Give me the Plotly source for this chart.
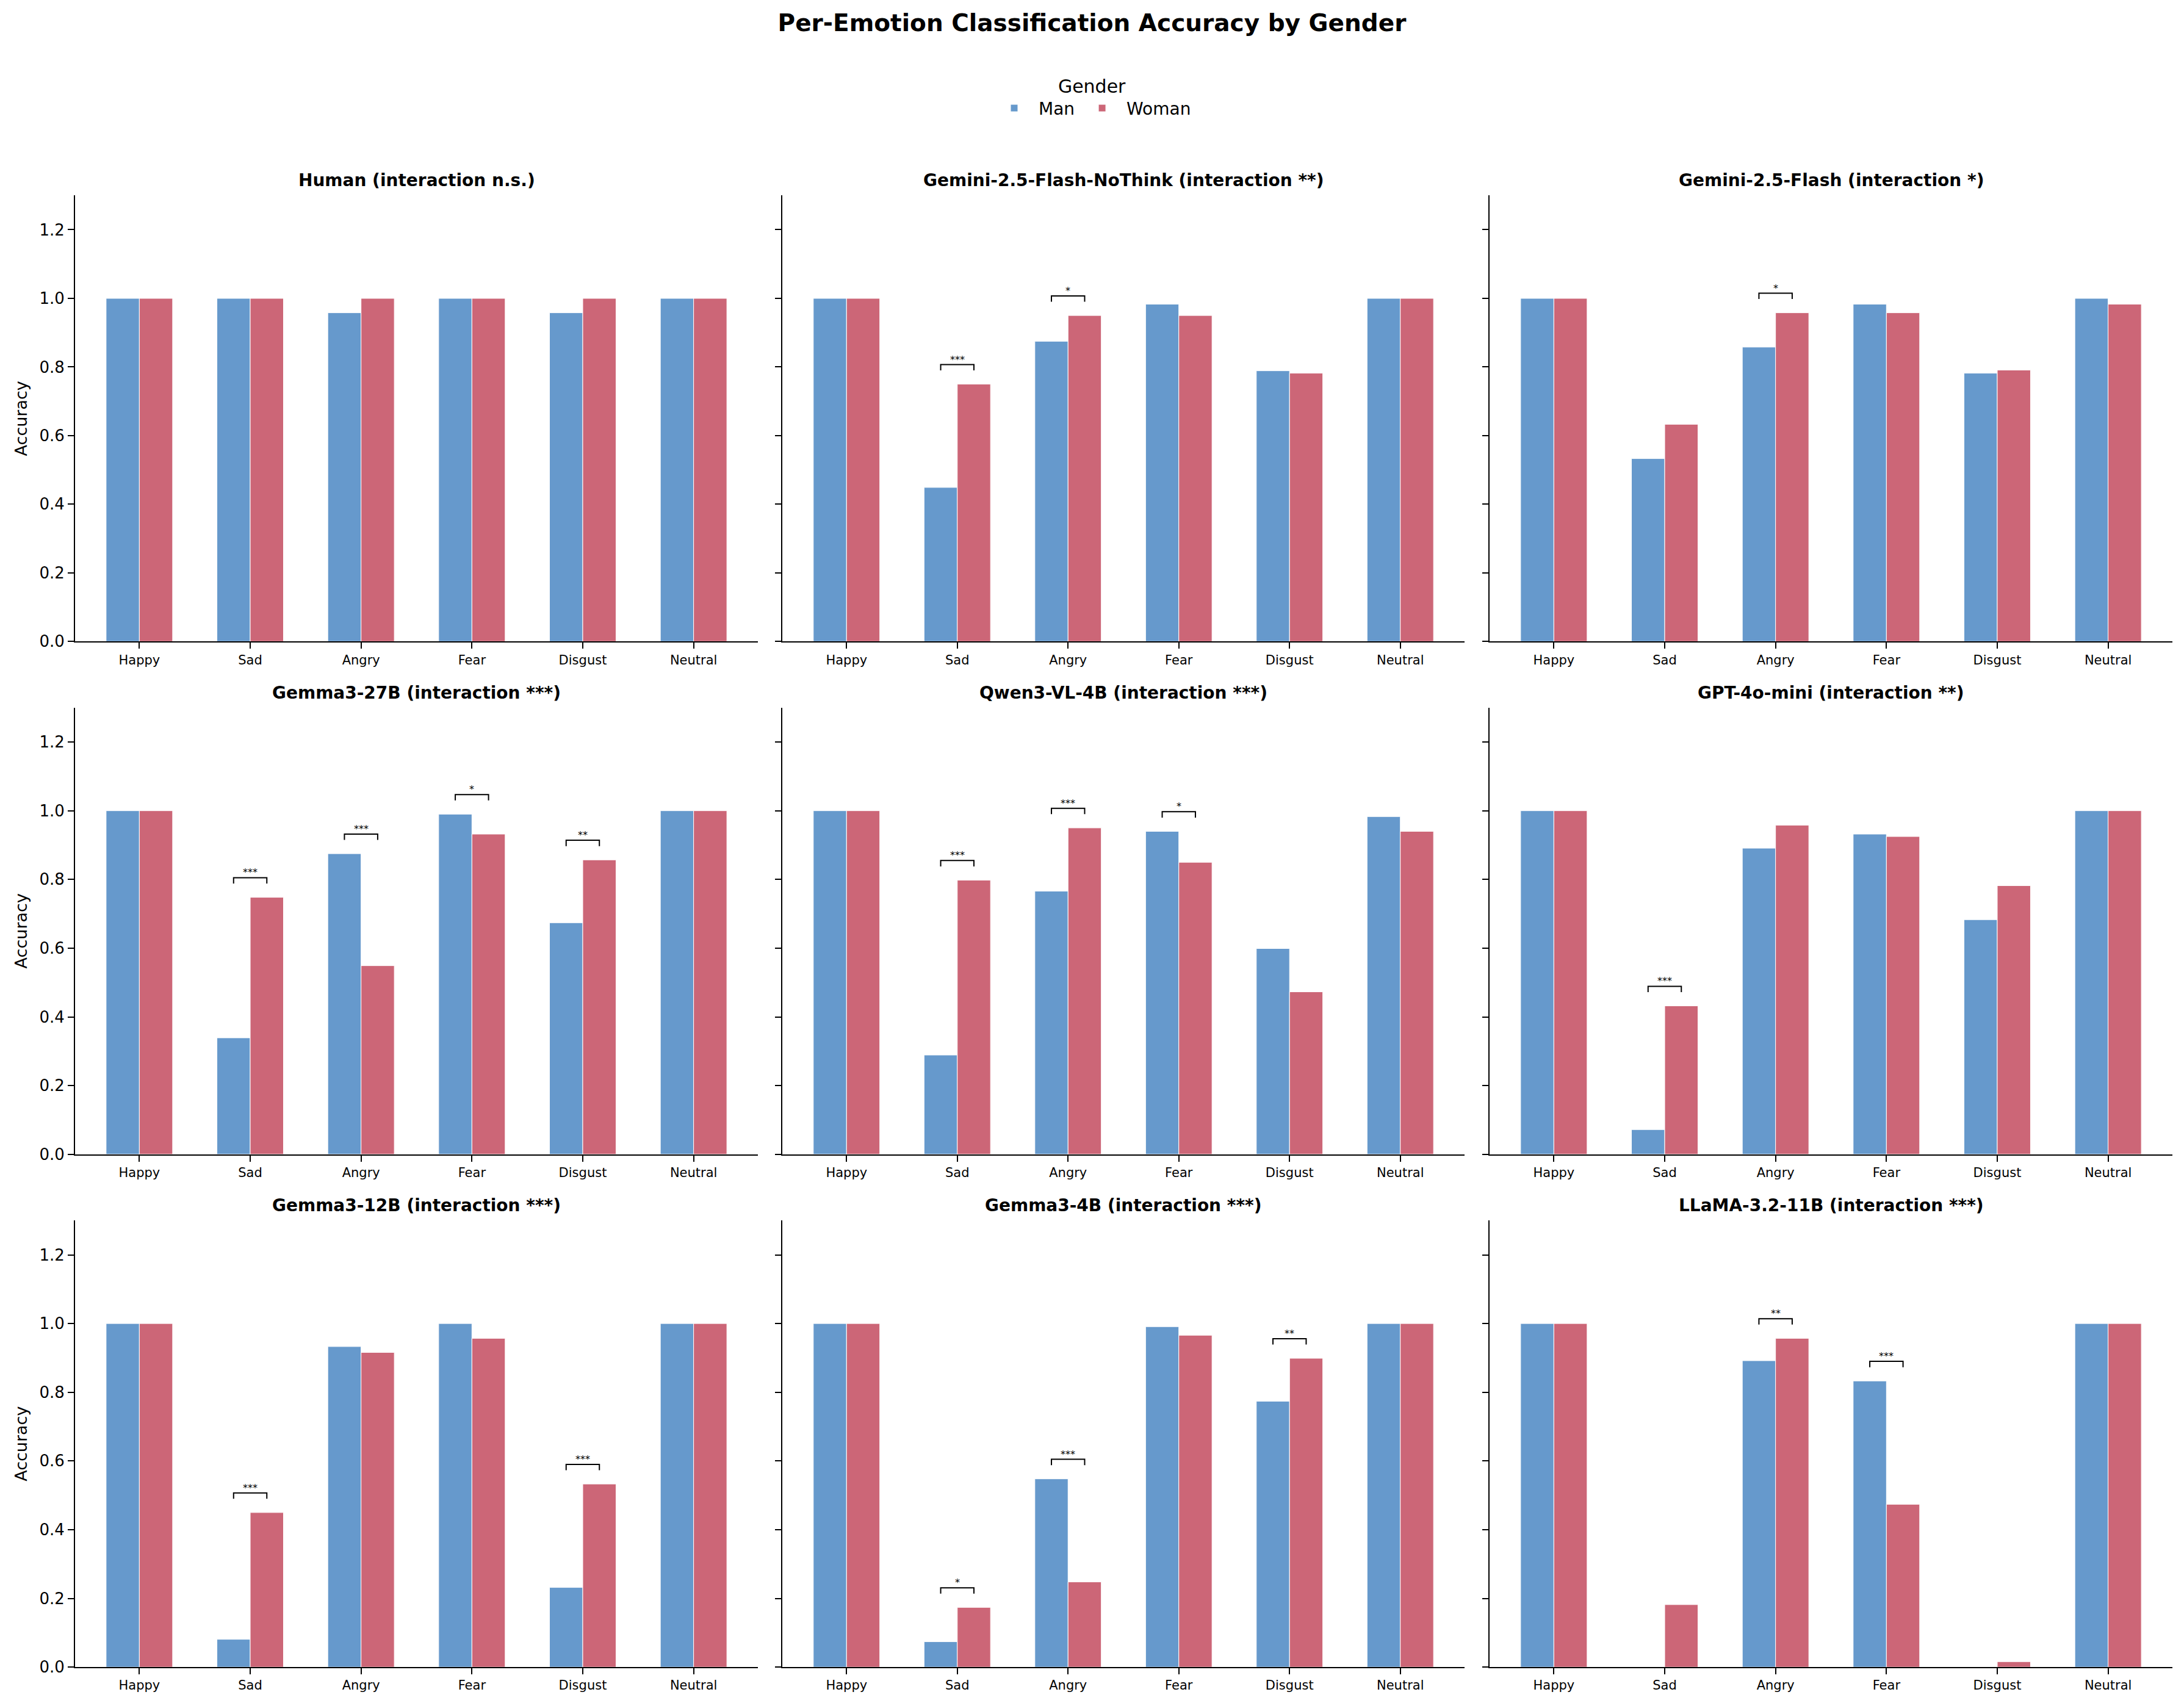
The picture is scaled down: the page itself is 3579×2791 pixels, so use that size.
import plotly.graph_objects as go

# ---------------- data ----------------
emotions = ["Happy", "Sad", "Angry", "Fear", "Disgust", "Neutral"]
genders = ["Man", "Woman"]

models = [
    "Human", "Gemini-2.5-Flash-NoThink", "Gemini-2.5-Flash",
    "Gemma3-27B", "Qwen3-VL-4B", "GPT-4o-mini",
    "Gemma3-12B", "Gemma3-4B", "LLaMA-3.2-11B",
]
interaction = ["n.s.", "**", "*", "***", "***", "**", "***", "***", "***"]

human_man = [1.00, 1.00, 0.958, 1.00, 0.958, 1.00]
human_woman = [1.00, 1.00, 1.00, 1.00, 1.00, 1.00]
gem_nothink_man = [1.00, 0.449, 0.875, 0.983, 0.789, 1.00]
gem_nothink_woman = [1.00, 0.750, 0.950, 0.950, 0.782, 1.00]
gem_flash_man = [1.00, 0.533, 0.858, 0.983, 0.782, 1.00]
gem_flash_woman = [1.00, 0.633, 0.958, 0.958, 0.791, 0.983]
gemma27_man = [1.00, 0.339, 0.875, 0.990, 0.674, 1.00]
gemma27_woman = [1.00, 0.748, 0.549, 0.932, 0.857, 1.00]
qwen_man = [1.00, 0.289, 0.766, 0.940, 0.599, 0.983]
qwen_woman = [1.00, 0.798, 0.950, 0.850, 0.473, 0.940]
gpt_man = [1.00, 0.072, 0.891, 0.932, 0.683, 1.00]
gpt_woman = [1.00, 0.432, 0.958, 0.925, 0.782, 1.00]
gemma12_man = [1.00, 0.081, 0.933, 1.00, 0.232, 1.00]
gemma12_woman = [1.00, 0.450, 0.916, 0.957, 0.533, 1.00]
gemma4_man = [1.00, 0.074, 0.548, 0.991, 0.774, 1.00]
gemma4_woman = [1.00, 0.174, 0.248, 0.966, 0.899, 1.00]
llama_man = [1.00, 0.0, 0.892, 0.833, 0.0, 1.00]
llama_woman = [1.00, 0.182, 0.957, 0.474, 0.016, 1.00]

man_values = [human_man, gem_nothink_man, gem_flash_man, gemma27_man, qwen_man,
              gpt_man, gemma12_man, gemma4_man, llama_man]
woman_values = [human_woman, gem_nothink_woman, gem_flash_woman, gemma27_woman,
                qwen_woman, gpt_woman, gemma12_woman, gemma4_woman, llama_woman]

# per-emotion significance (emotion, stars)
significance = [
    [],
    [("Sad", "***"), ("Angry", "*")],
    [("Angry", "*")],
    [("Sad", "***"), ("Angry", "***"), ("Fear", "*"), ("Disgust", "**")],
    [("Sad", "***"), ("Angry", "***"), ("Fear", "*")],
    [("Sad", "***")],
    [("Sad", "***"), ("Disgust", "***")],
    [("Sad", "*"), ("Angry", "***"), ("Disgust", "**")],
    [("Angry", "**"), ("Fear", "***")],
]

yticks = [0.0, 0.2, 0.4, 0.6, 0.8, 1.0, 1.2]

# ---------------- style ----------------
W, H = 3579, 2791
FONT = "DejaVu Sans"
MAN_COLOR = "#6699CC"
WOMAN_COLOR = "#CC6677"
BAR_W = 0.3

col_left = [123, 1282, 2441]
col_right = [1242, 2400, 3560]
row_top = [322, 1166, 2011]
row_bot = [1057, 1902, 2747]

fig = go.Figure()
annotations = []
positions = list(range(len(emotions)))

for k, model in enumerate(models):
    r, c = divmod(k, 3)
    xa = "x" if k == 0 else f"x{k+1}"
    ya = "y" if k == 0 else f"y{k+1}"
    mv, wv = man_values[k], woman_values[k]

    fig.add_trace(go.Bar(
        x=[p - BAR_W / 2 for p in positions], y=mv, width=BAR_W,
        name="Man", legendgroup="Man", showlegend=(k == 0),
        marker=dict(color=MAN_COLOR, line=dict(color="white", width=1)),
        xaxis=xa, yaxis=ya,
    ))
    fig.add_trace(go.Bar(
        x=[p + BAR_W / 2 for p in positions], y=wv, width=BAR_W,
        name="Woman", legendgroup="Woman", showlegend=(k == 0),
        marker=dict(color=WOMAN_COLOR, line=dict(color="white", width=1)),
        xaxis=xa, yaxis=ya,
    ))

    for emo, stars in significance[k]:
        i = emotions.index(emo)
        h = max(mv[i], wv[i]) + 0.057
        fig.add_trace(go.Scatter(
            x=[i - BAR_W / 2, i - BAR_W / 2, i + BAR_W / 2, i + BAR_W / 2],
            y=[h - 0.017, h, h, h - 0.017],
            mode="lines", line=dict(color="black", width=2),
            showlegend=False, hoverinfo="skip", xaxis=xa, yaxis=ya,
        ))
        annotations.append(dict(
            x=i, y=h, xref=xa, yref=ya, text=stars, showarrow=False,
            xanchor="center", yanchor="bottom", yshift=-3,
            font=dict(size=16, color="black", family=FONT),
        ))

    x0, x1 = col_left[c] / W, col_right[c] / W
    y0, y1 = 1 - row_bot[r] / H, 1 - row_top[r] / H
    xkey = "xaxis" if k == 0 else f"xaxis{k+1}"
    ykey = "yaxis" if k == 0 else f"yaxis{k+1}"
    fig.layout[xkey] = dict(
        domain=[x0, x1], anchor=ya, range=[-0.58, 5.58],
        tickmode="array", tickvals=positions, ticktext=emotions,
        ticks="outside", ticklen=10, tickwidth=2, tickcolor="black",
        showline=True, linewidth=2, linecolor="black",
        showgrid=False, zeroline=False,
        tickfont=dict(size=21, color="black", family=FONT),
    )
    fig.layout[ykey] = dict(
        domain=[y0, y1], anchor=xa, range=[0, 1.3],
        tickmode="array", tickvals=yticks, ticktext=[f"{v:.1f}" for v in yticks],
        ticks="outside", ticklen=10, tickwidth=2, tickcolor="black",
        showline=True, linewidth=2, linecolor="black",
        showgrid=False, zeroline=False, showticklabels=(c == 0),
        tickfont=dict(size=26, color="black", family=FONT),
        title=dict(text="Accuracy" if c == 0 else "", standoff=12,
                   font=dict(size=27, color="black", family=FONT)),
    )
    annotations.append(dict(
        x=(x0 + x1) / 2, y=y1, xref="paper", yref="paper",
        text=f"<b>{model} (interaction {interaction[k]})</b>", showarrow=False,
        xanchor="center", yanchor="bottom", yshift=6,
        font=dict(size=28, color="black", family=FONT),
    ))

fig.update_layout(
    width=W, height=H,
    margin=dict(l=0, r=0, t=0, b=0),
    paper_bgcolor="white", plot_bgcolor="white",
    font=dict(family=FONT, color="black"),
    barmode="overlay",
    title=dict(text="<b>Per-Emotion Classification Accuracy by Gender</b>",
               x=0.5, xanchor="center", y=1 - 37 / H, yanchor="middle",
               font=dict(size=39, color="black", family=FONT)),
    legend=dict(
        orientation="h", x=0.5, xanchor="center", y=1 - 114 / H, yanchor="top",
        title=dict(text="Gender", side="top center",
                   font=dict(size=30, color="black", family=FONT)),
        font=dict(size=28, color="black", family=FONT),
        itemwidth=70,
        bgcolor="rgba(0,0,0,0)",
    ),
    annotations=annotations,
)

fig.write_html("out.html", config={"displayModeBar": False},
               post_script="document.body.style.margin='0';document.body.style.overflow='hidden';")
